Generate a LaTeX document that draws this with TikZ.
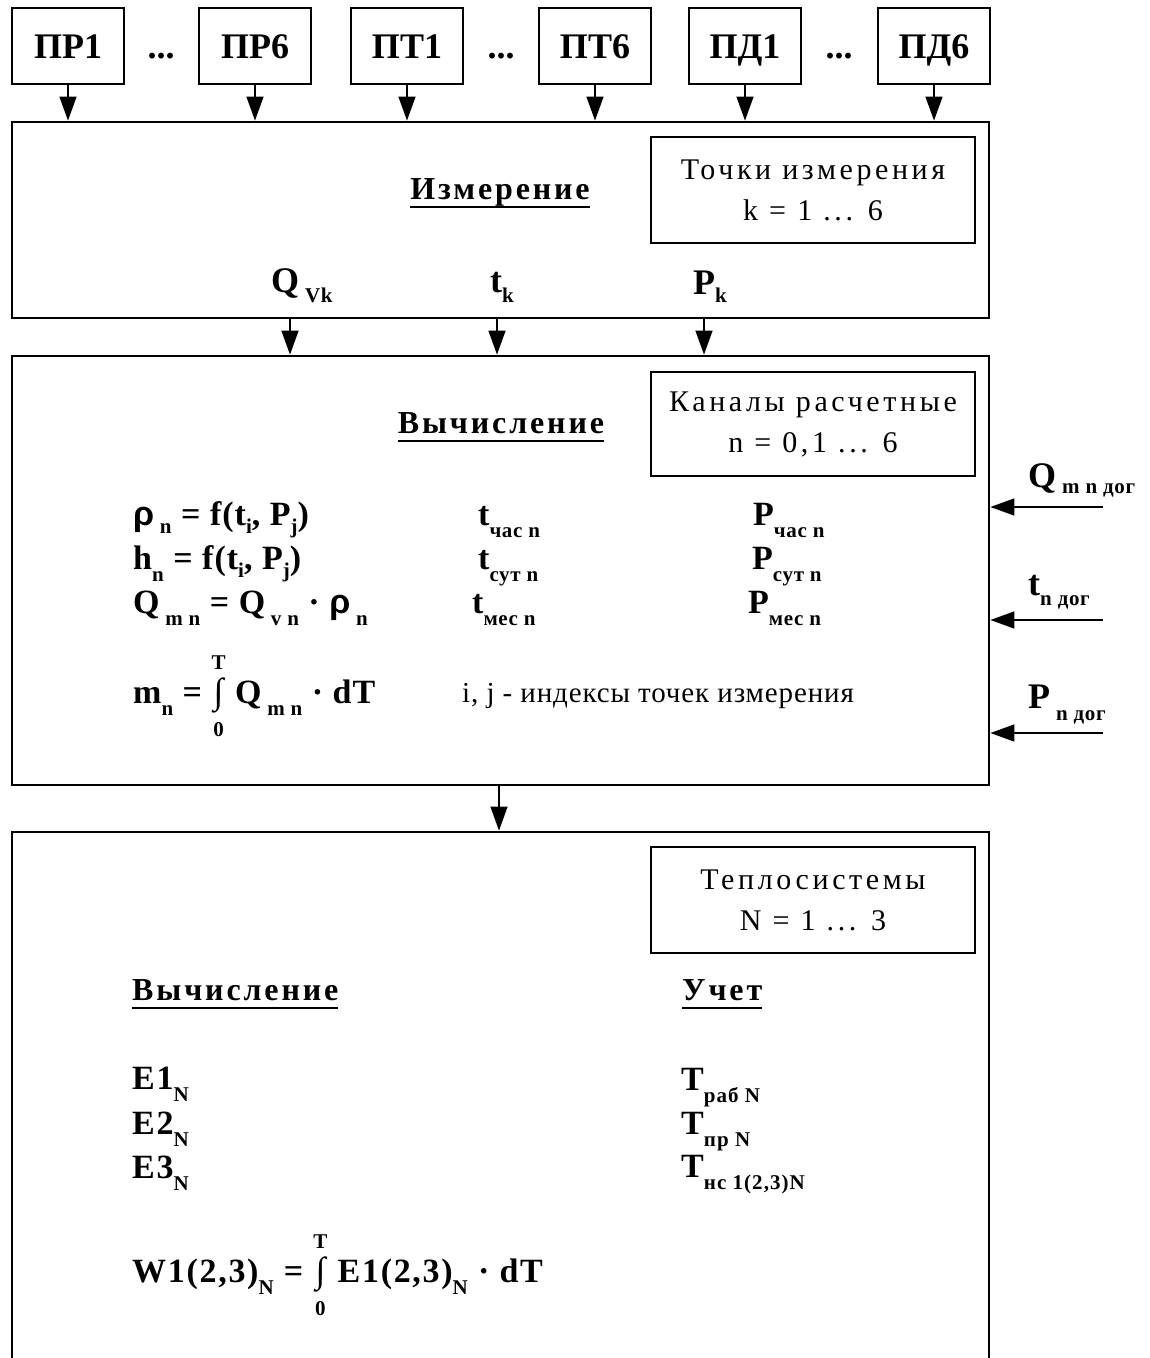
\documentclass[tikz,border=0pt]{standalone}
\usepackage{fontspec}
\setmainfont{Liberation Serif}
\newfontfamily\spr[LetterSpace=12]{Liberation Serif}
\newfontfamily\sph[LetterSpace=9]{Liberation Serif}
\newfontfamily\spi[LetterSpace=3]{Liberation Serif}
\newfontfamily\frm[LetterSpace=3]{Liberation Serif}
\newfontfamily\frw[LetterSpace=5]{Liberation Serif}
\newfontfamily\sgr{Liberation Sans}
\usetikzlibrary{arrows.meta}
\newcommand\fs[1]{\fontsize{#1}{#1}\selectfont}
\newcommand\sbx[2][12pt]{\raisebox{-#1}{\fs{21}\bfseries #2}}
\newcommand\ulx[1]{\setbox0\hbox{#1}\rlap{\rule[-9pt]{\wd0}{2pt}}\box0}
\newcommand\intlim{\ooalign{\hfil{\mdseries\fs{36}∫}\hfil\cr\hfil\raisebox{34pt}{\fs{21}\bfseries T}\hfil\cr\hfil\raisebox{-33pt}{\fs{21}\bfseries 0}\hfil\cr}}
\newcommand\rh{{\sgr\bfseries ρ}}
\tikzset{
  frame/.style={draw, line width=2.8pt, inner sep=0pt},
  sensor/.style={frame, minimum width=112pt, minimum height=76pt, text height=24pt, text depth=0pt, font=\fs{36}\bfseries},
  bigbox/.style={frame, minimum width=977pt},
  infobox/.style={frame, minimum width=324pt, align=center, font=\spr\fontsize{30}{41}\selectfont},
  flow/.style={line width=1.4pt, -{Triangle[length=24pt,width=17pt]}},
  dots/.style={inner sep=0pt, anchor=base, font=\fs{36}\bfseries},
  heading/.style={inner sep=0pt, anchor=base, font=\sph\bfseries\fs{32}},
  big/.style={inner sep=0pt, anchor=base west, font=\frm\bfseries\fs{36}},
  fml/.style={inner sep=0pt, anchor=base west, font=\frm\bfseries\fs{34}},
  fmlc/.style={inner sep=0pt, anchor=base west, font=\frw\bfseries\fs{34}},
  note/.style={inner sep=0pt, anchor=base west, font=\spi\fs{29}}
}
\begin{document}
\begin{tikzpicture}[x=1pt,y=-1pt]
\useasboundingbox (0,0) rectangle (1150,1358);
\clip (0,0) rectangle (1150,1358);

% sensors
\node[sensor] (pr1) at (68,46) {ПР1};
\node[sensor] (pr6) at (255,46) {ПР6};
\node[sensor] (pt1) at (407,46) {ПТ1};
\node[sensor] (pt6) at (595,46) {ПТ6};
\node[sensor] (pd1) at (745,46) {ПД1};
\node[sensor] (pd6) at (934,46) {ПД6};
\node[dots] (d1) at (161,58) {...};
\node[dots] (d2) at (501,58) {...};
\node[dots] (d3) at (839,58) {...};

% measurement block
\node[bigbox, minimum height=196pt] (meas) at (500.5,220) {};
\node[infobox, minimum height=106pt] (pts) at (813,190) {Точки измерения\\k = 1 ... 6};
\node[heading] (hm) at (500,199) {\ulx{Измерение}};
\node[big] (qv) at (271,292) {Q\,\sbx[10pt]{Vk}};
\node[big] (tk) at (490,292) {t\sbx[10pt]{k}};
\node[big] (pk) at (693,294) {P\sbx[8pt]{k}};

% calculation block
\node[bigbox, minimum height=429pt] (calc) at (500.5,570.5) {};
\node[infobox, minimum height=104pt] (chan) at (813,424) {Каналы расчетные\\n = 0,1 ... 6};
\node[heading] (hc) at (501,433) {\ulx{Вычисление}};

\node[fml] (r1) at (133,525) {\rh\,\sbx[8pt]{n} = f(t\sbx[8pt]{i}, P\sbx[8pt]{j})};
\node[fml] (r2) at (133,569) {h\sbx{n} = f(t\sbx[8pt]{i}, P\sbx[8pt]{j})};
\node[fml] (r3) at (133,613) {Q\,\sbx{m n} = Q\,\sbx{v n} · \rh\,\sbx{n}};
\node[fml] (r4) at (133,703) {m\sbx{n} = \intlim{} Q\,\sbx{m n} · dT};

\node[fml] (tc) at (478,525) {t\sbx{час n}};
\node[fml] (ts) at (478,569) {t\sbx{сут n}};
\node[fml] (tm) at (472,613) {t\sbx{мес n}};
\node[fml] (pc) at (753,525) {P\sbx{час n}};
\node[fml] (ps) at (752,569) {P\sbx{сут n}};
\node[fml] (pm) at (748,613) {P\sbx{мес n}};
\node[note] (ij) at (462,702) {i, j - индексы точек измерения};

\node[big] (qd) at (1028,487) {Q\,\sbx[6pt]{m n дог}};
\node[big] (td) at (1028,595) {t\sbx[10pt]{n дог}};
\node[big] (pdg) at (1028,708) {P\,\sbx[12pt]{n дог}};
\coordinate (qin) at (1103,507);
\coordinate (tin) at (1103,620);
\coordinate (pin) at (1103,733);

% accounting block
\node[bigbox, minimum height=568pt] (acc) at (500.5,1116) {};
\node[infobox, minimum height=106pt] (heat) at (813,900) {Теплосистемы\\N = 1 ... 3};
\node[heading, anchor=base west] (hv) at (132,1000) {\ulx{Вычисление}};
\node[heading, anchor=base west] (hu) at (682,1000) {\ulx{Учет}};

\node[fmlc] (e1) at (132,1089) {E1\sbx{N}};
\node[fmlc] (e2) at (132,1134) {E2\sbx{N}};
\node[fmlc] (e3) at (132,1178) {E3\sbx{N}};
\node[fmlc] (w) at (132,1282) {W1(2,3)\sbx{N} = \intlim{} E1(2,3)\sbx{N} · dT};
\node[fmlc] (tr) at (681,1090) {T\sbx{раб N}};
\node[fmlc] (tp) at (681,1134) {T\sbx{пр N}};
\node[fmlc] (tn) at (681,1177) {T\sbx{нс 1(2,3)N}};

% connectors
\foreach \n in {pr1,pr6,pt1,pt6,pd1,pd6}
  \draw[flow] (\n.south) -- (\n.south |- meas.north);
\coordinate (a1) at (290,0);
\coordinate (a2) at (497,0);
\coordinate (a3) at (704,0);
\coordinate (a4) at (499,0);
\foreach \c in {a1,a2,a3}
  \draw[flow] (meas.south -| \c) -- (calc.north -| \c);
\draw[flow] (calc.south -| a4) -- (acc.north -| a4);
\foreach \c in {qin,tin,pin}
  \draw[flow] (\c) -- (\c -| calc.east);
\end{tikzpicture}
\end{document}
